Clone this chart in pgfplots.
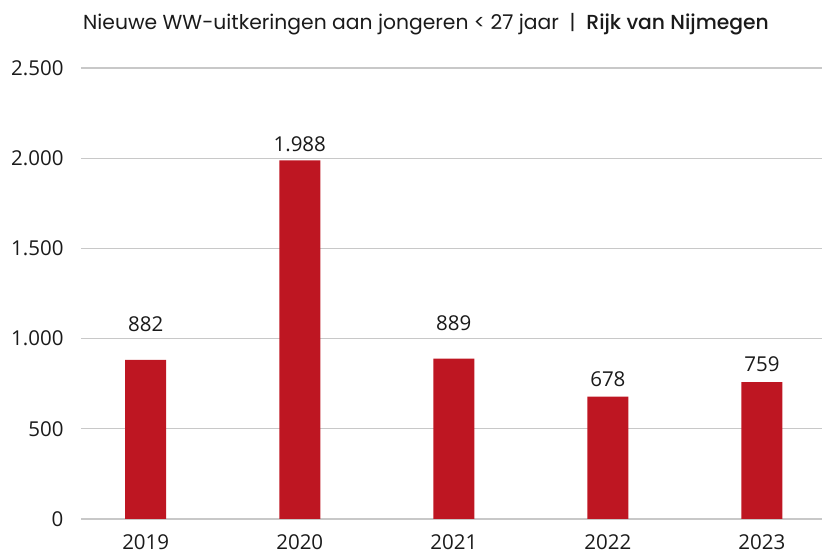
\documentclass[border=0pt]{standalone}
\usepackage{pgfplots}
\pgfplotsset{compat=1.18}
\usepackage{fontspec}
\setmainfont{Open Sans}
\newfontfamily\titlefont{Poppins}[BoldFont={Poppins Medium}]

\definecolor{barred}{HTML}{BE1622}
\definecolor{gridgray}{HTML}{C8C8C8}
\definecolor{txt}{HTML}{1A1A1A}

% jaar, aantal, afstand label boven balk (pt)
\pgfplotstableread{
x  y     lift
0  882   28
1  1988  9
2  889   28
3  678   10
4  759   11
}\wwdata

\begin{document}
\begin{tikzpicture}
\begin{axis}[
    name=ax,
    scale only axis,
    width=741pt,
    height=451pt,
    xmin=-0.42, xmax=4.39,
    ymin=0, ymax=2500,
    ytick={0,500,1000,1500,2000,2500},
    xtick={0,1,2,3,4},
    xticklabels={2019,2020,2021,2022,2023},
    ymajorgrids,
    grid style={gridgray, line width=1.2pt},
    axis line style={draw=none},
    tick style={draw=none},
    tick label style={font=\fontsize{20.5}{24}\selectfont, text=txt},
    yticklabel style={xshift=-14pt},
    xticklabel style={yshift=-12pt},
    /pgf/number format/.cd, 1000 sep={.}, assume math mode=true,
    /pgfplots/.cd,
    clip=false,
]
\addplot[ybar, bar width=41pt, fill=barred, draw=none,
    visualization depends on={\thisrow{lift} \as \lift},
    nodes near coords,
    nodes near coords style={anchor=base, yshift=\lift pt,
        font=\fontsize{20.5}{24}\selectfont, text=txt,
        /pgf/number format/1000 sep={.}, /pgf/number format/assume math mode=true},
] table[x=x, y=y] {\wwdata};
\node[anchor=base, font=\titlefont\fontsize{20.3}{24}\selectfont, text=txt]
    at ([yshift=38pt]axis description cs:0.4656,1)
    {Nieuwe WW-uitkeringen aan jongeren < 27 jaar \ |\ \ \textbf{Rijk van Nijmegen}};
\end{axis}
\pgfresetboundingbox
\path ([shift={(-81pt,-34pt)}]ax.south west) rectangle ([shift={(0pt,68pt)}]ax.north east);
\end{tikzpicture}
\end{document}
